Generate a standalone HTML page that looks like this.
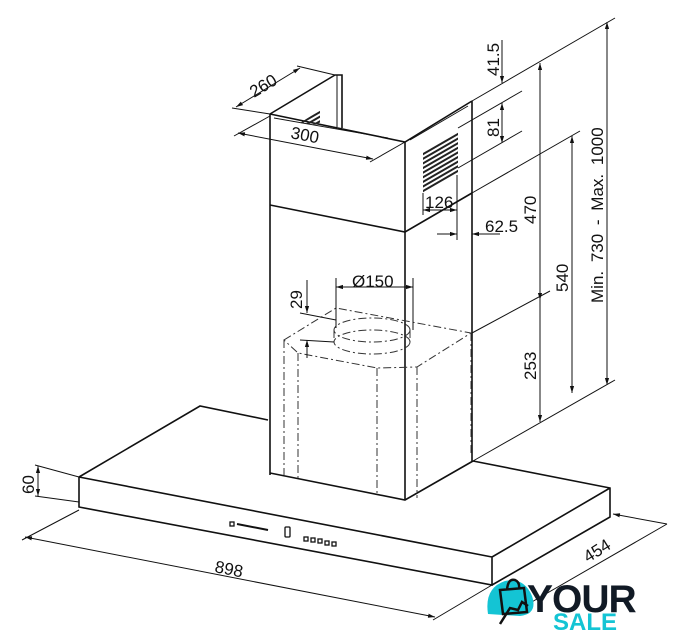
<!DOCTYPE html>
<html><head><meta charset="utf-8"><style>
html,body{margin:0;padding:0;background:#fff;}
svg{display:block;}
text{font-family:"Liberation Sans",sans-serif;font-size:17px;fill:#111;}
</style></head><body>
<svg width="688" height="640" viewBox="0 0 688 640" xmlns="http://www.w3.org/2000/svg">
<defs>
<marker id="a" viewBox="0 0 10 10" refX="10" refY="5" markerWidth="7" markerHeight="7" orient="auto-start-reverse"><path d="M0,2 L10,5 L0,8 z" fill="#111"/></marker>
<pattern id="h" width="4" height="4" patternUnits="userSpaceOnUse" patternTransform="rotate(-30)"><rect width="4" height="2" fill="#222"/></pattern>
</defs>
<g fill="none" stroke="#111" stroke-width="1.6">
<path d="M270,114 L270,475 M270,114 L405,142 L472,101 M405,142 L405,500 M472,101 L472,461"/>
<path d="M270,114 L335,75 L342,75 L342,128" />
<path d="M337,75 L337,127" stroke-width="1"/>
<path d="M274,118 L388,138 M410,140 L468,106" stroke-width="0.9"/>
<path d="M270,205 L405,232 L472,193"/>
<path d="M79,477 L200,406 L268,420 M473,461 L610,488 L610,517 L492,585 M79,477 L79,507 L492,585 L492,557 L610,488 M79,477 L492,557" />
<path d="M270,473 L405,500 L473,461"/>
</g>
<path d="M423,152 L458,132 L458,173 L423,193 Z" fill="url(#h)"/>
<path d="M300,123 L320,110 L320,125 Z" fill="url(#h)"/>
<g fill="none" stroke="#333" stroke-width="1" stroke-dasharray="8,3,2,3">
<path d="M284,340 L336,308 L471,333 L417,367 L377,368 L298,353 Z"/>
<path d="M284,340 L284,475 M298,353 L298,478 M377,368 L377,495 M417,367 L417,498 M471,333 L471,455"/>
<ellipse cx="372" cy="330" rx="38" ry="12"/>
<ellipse cx="372" cy="342" rx="38" ry="12"/>
<path d="M334,330 L334,342 M410,330 L410,342"/>
</g>
<g fill="none" stroke="#111" stroke-width="1">
<path d="M236,107 L300,68" marker-start="url(#a)" marker-end="url(#a)"/>
<path d="M270,114 L232,108 M335,75 L297,66"/>
<path d="M238,133 L373,159" marker-start="url(#a)" marker-end="url(#a)"/>
<path d="M270,116 L234,136 M405,142 L370,162"/>
<path d="M472,101 L615,18 M458,128 L522,91 M458,168 L522,131 M472,193 L580,131"/>
<path d="M502,40 L502,83" marker-end="url(#a)"/>
<path d="M502,103 L502,143" marker-start="url(#a)" marker-end="url(#a)"/>
<path d="M540,63 L540,300" marker-start="url(#a)" marker-end="url(#a)"/>
<path d="M540,300 L540,422" marker-end="url(#a)"/>
<path d="M572,136 L572,393" marker-start="url(#a)" marker-end="url(#a)"/>
<path d="M607,22 L607,385" marker-start="url(#a)" marker-end="url(#a)"/>
<path d="M472,333 L550,291 M473,461 L615,380"/>
<path d="M423,193 L423,215 M457,175 L457,240 M472,225 L472,240"/>
<path d="M423,210 L457,210" marker-start="url(#a)" marker-end="url(#a)"/>
<path d="M437,234 L457,234" marker-end="url(#a)"/>
<path d="M500,234 L472,234" marker-end="url(#a)"/>
<path d="M336,278 L336,328 M413,278 L413,330"/>
<path d="M336,287 L413,287" marker-start="url(#a)" marker-end="url(#a)"/>
<path d="M307,280 L307,313" marker-end="url(#a)"/>
<path d="M307,358 L307,340" marker-end="url(#a)"/>
<path d="M300,313 L336,320 M300,340 L334,342"/>
<path d="M79,477 L35,465 M79,502 L35,496"/>
<path d="M38,466 L38,496" marker-start="url(#a)" marker-end="url(#a)"/>
<path d="M79,510 L22,540 M492,585 L433,620"/>
<path d="M25,537 L435,617" marker-start="url(#a)" marker-end="url(#a)"/>
<path d="M613,514 L667,524 M667,524 L530,603" marker-start="url(#a)"/>
</g>
<g stroke="#111" fill="none" stroke-width="1.3">
<rect x="230" y="522" width="4" height="4"/>
<path d="M237,524 L268,530" stroke-width="2"/>
<rect x="285" y="527" width="5" height="10" rx="1"/>
<rect x="304" y="537" width="4" height="4"/><rect x="311" y="538" width="4" height="4"/><rect x="318" y="539" width="4" height="4"/><rect x="325" y="541" width="4" height="4"/><rect x="332" y="542" width="4" height="4"/>
</g>
<text transform="translate(254,98) rotate(-31)">260</text>
<text transform="translate(290,138) rotate(11)">300</text>
<text transform="translate(499,76) rotate(-90)">41.5</text>
<text transform="translate(499,137) rotate(-90)">81</text>
<text transform="translate(536,224) rotate(-90)">470</text>
<text transform="translate(568,292) rotate(-90)">540</text>
<text transform="translate(536,380) rotate(-90)">253</text>
<text transform="translate(603,303) rotate(-90)" style="word-spacing:4px">Min. 730  -  Max. 1000</text>
<text x="425" y="208">126</text>
<text x="485" y="232">62.5</text>
<text x="352" y="287">Ø150</text>
<text transform="translate(302,309) rotate(-90)">29</text>
<text transform="translate(34,494) rotate(-90)">60</text>
<text transform="translate(214,572) rotate(11)">898</text>
<text transform="translate(588,563) rotate(-32)">454</text>
<g>
<path d="M488,614 Q484,588 505,581 Q524,577 532,596 Q538,614 520,616 Z" fill="#14c4d4"/>
<path d="M500,590 L524,588 L527,612 L503,614 Z M507,590 Q508,578 515,580 Q520,582 519,589" fill="none" stroke="#111" stroke-width="2.5"/>
<path d="M500,624 L510,608 L518,610 L522,602 L528,606" fill="none" stroke="#111" stroke-width="2.5"/>
<text x="527" y="612" style="font-size:39px;font-weight:bold;fill:#111a25;letter-spacing:-1px">YOUR</text>
<text x="553" y="630" style="font-size:24px;font-weight:bold;fill:#14c4d4">SALE</text>
</g>
</svg>
</body></html>
